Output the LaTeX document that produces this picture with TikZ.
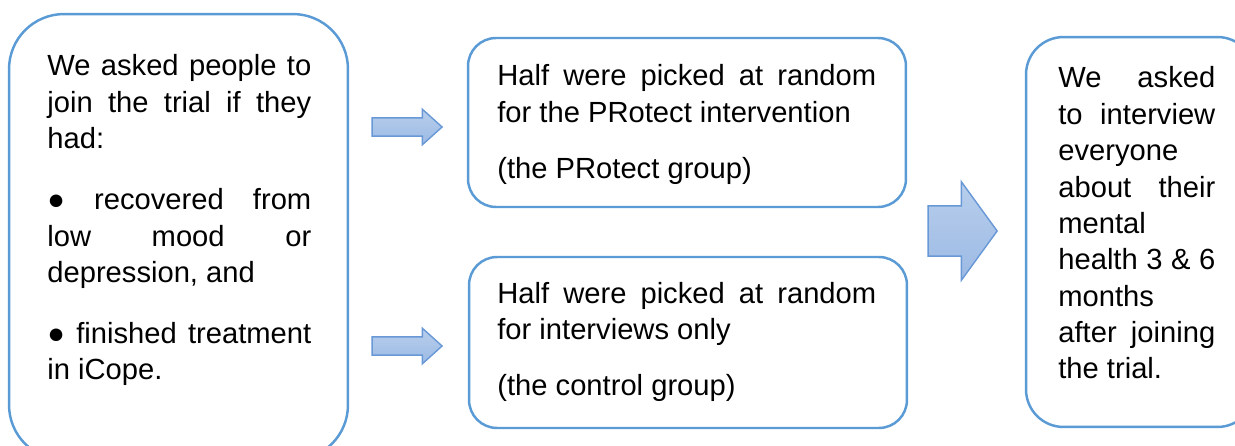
\documentclass[tikz,border=0pt]{standalone}
\usepackage{fontspec}
\setmainfont{Liberation Sans}
\usetikzlibrary{shapes.arrows}
\definecolor{boxblue}{RGB}{91,155,213}
\definecolor{arrowtop}{RGB}{184,206,236}
\definecolor{arrowbot}{RGB}{156,186,228}
\definecolor{arrowedge}{RGB}{104,152,214}

\begin{document}
\begin{tikzpicture}[x=0.02cm,y=-0.02cm]
	\tikzstyle{box} = [rectangle,draw=boxblue,line width=1.4pt,fill=white]
	\tikzstyle{blurb} = [inner sep=0pt,anchor=base west,align=justify,font=\fontsize{16.6pt}{20.7pt}\selectfont,execute at begin node={\parindent=0pt\parskip=11pt\tolerance=10000}]
	\tikzstyle{blockarrow} = [single arrow,draw=arrowedge,line width=0.8pt,top color=arrowtop,bottom color=arrowbot,inner xsep=0pt,single arrow head indent=0pt]
	\useasboundingbox (0,0) rectangle (1235,446);
	% boxes
	\node[box,rounded corners=1.1cm,minimum width=6.78cm,minimum height=8.92cm] (who) at (178.5,237) {};
	\node[box,rounded corners=0.56cm,minimum width=8.76cm,minimum height=3.38cm] (protect) at (687,122.5) {};
	\node[box,rounded corners=0.56cm,minimum width=8.76cm,minimum height=3.42cm] (control) at (688,342.5) {};
	\node[box,rounded corners=0.75cm,minimum width=4.58cm,minimum height=7.8cm] (followup) at (1140.5,232) {};
	% texts
	\node[blurb,text width=5.28cm,execute at begin node={\parskip=14pt}] (whotext) at (47,76)
		{We asked people to\linebreak join the trial if they\linebreak had:\par
		● recovered from\linebreak low mood or\linebreak depression, and\par
		● finished treatment\linebreak in iCope.};
	\node[blurb,text width=7.58cm] (protecttext) at (497,86)
		{Half were picked at random\linebreak for the PRotect intervention\par
		(the PRotect group)};
	\node[blurb,text width=7.58cm] (controltext) at (497,303)
		{Half were picked at random\linebreak for interviews only\par
		(the control group)};
	\node[blurb,text width=3.14cm] (followuptext) at (1058,88)
		{We asked\linebreak to interview\linebreak everyone\linebreak about their\linebreak
		mental\linebreak health 3 \& 6\linebreak months\linebreak after joining\linebreak the trial.};
	% arrows
	\node[blockarrow,inner ysep=0.17cm,minimum height=1.4cm,single arrow head extend=0.17cm,single arrow tip angle=84] (a1) at (402,127) {};
	\node[blockarrow,inner ysep=0.17cm,minimum height=1.4cm,single arrow head extend=0.17cm,single arrow tip angle=84] (a2) at (402,346) {};
	\node[blockarrow,inner ysep=0.49cm,minimum height=1.38cm,single arrow head extend=0.48cm,single arrow tip angle=108] (a3) at (953.5,231) {};
\end{tikzpicture}
\end{document}
